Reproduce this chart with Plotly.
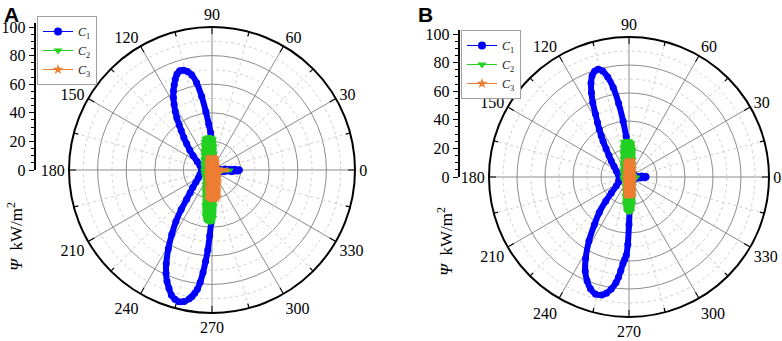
import plotly.graph_objects as go

# ---------------- data ----------------
angle_ticks = [0, 30, 60, 90, 120, 150, 180, 210, 240, 270, 300, 330]
radial_ticks = [0, 20, 40, 60, 80, 100]
series_names = ["<i>C</i><sub>1</sub>", "<i>C</i><sub>2</sub>", "<i>C</i><sub>3</sub>"]

# Panel A
a_c1_theta = [0, 2, 4, 7, 15, 30, 45, 60, 75, 82, 86, 88, 90, 92, 94, 96, 98, 100, 102, 104, 106, 108,
              110, 112, 114, 116, 118, 120, 122, 124, 126, 128, 131, 134, 138, 143, 150, 160, 170, 180,
              190, 200, 210, 217, 222, 226, 229, 232, 235, 238, 241, 244, 246, 248, 250, 252, 254, 256,
              258, 260, 261, 262, 263, 264, 265, 266, 267, 268, 269, 270, 272, 275, 280, 290, 305, 320,
              335, 348, 353, 356, 358, 360]
a_c1_r = [19, 16, 9, 5, 4, 3.5, 3.5, 4, 5, 7, 11, 15, 20, 26, 32, 41, 52, 62, 68, 71, 72.5, 73,
          71.5, 68.5, 65, 61.5, 57.5, 53, 48.5, 44, 39, 35, 30, 25.5, 21, 16.5, 12, 9, 7.5, 7,
          7.5, 9, 11, 14, 18, 22, 27, 35, 44, 53, 63, 73, 79, 84, 88, 92, 94, 95,
          94, 91.5, 89.5, 87, 84, 79, 72, 64, 56, 46, 37, 29, 19, 12, 7, 5, 4, 4,
          4, 5, 8, 14, 18, 19]

a_c2_theta = [0, 4, 10, 25, 45, 60, 70, 76, 80, 83, 86, 90, 95, 100, 104, 107, 110, 115, 120, 130, 150,
              180, 200, 215, 230, 240, 248, 253, 257, 260, 263, 267, 271, 273, 275, 278, 282, 290, 305,
              320, 335, 345, 352, 357, 360]
a_c2_r = [13, 8, 4.5, 3, 3, 4, 6, 8.5, 12, 17, 22, 23, 23.5, 23.5, 23, 21, 18, 15, 12.5, 10, 7.5,
          6.5, 6.5, 7, 8, 11, 15, 19, 25, 32, 36, 37, 36.5, 33, 25, 16, 11, 7, 5,
          4, 3.5, 4.5, 7, 11, 13]

a_c3_theta = [0, 3, 8, 20, 35, 50, 60, 70, 80, 90, 100, 110, 120, 135, 150, 180, 210, 225, 240, 250,
              255, 260, 265, 270, 275, 280, 285, 290, 300, 315, 330, 345, 355, 360]
a_c3_r = [10.5, 7, 5, 4, 4.5, 6, 7, 9.5, 9.3, 9, 9.2, 9.5, 7, 5, 4, 3.5, 4, 5, 7, 10,
          13.5, 20, 21, 21, 21, 21, 19, 14, 10, 7, 5.7, 5, 6.5, 10.5]

# Panel B
b_c1_theta = [0, 2, 4, 7, 20, 45, 70, 80, 85, 88, 90, 92, 94, 96, 98, 100, 102, 104, 106, 108, 110,
              112, 114, 116, 118, 120, 122, 124, 126, 129, 133, 138, 145, 155, 165, 180, 195, 205,
              215, 222, 226, 230, 234, 238, 242, 245, 248, 251, 254, 257, 259, 261, 263, 264, 265,
              266, 267, 268, 269, 270, 271, 273, 276, 282, 300, 330, 350, 355, 357, 360]
b_c1_r = [12, 12, 9, 5, 4, 4, 4.5, 6, 8, 13, 17, 21, 29, 40, 53, 65, 73, 78, 80, 79.5, 77,
          72.5, 66, 59, 51, 45, 40, 35.5, 31.5, 26, 21, 17, 13, 10, 8, 7, 7.5, 8,
          11, 17, 24, 33, 42, 54, 66, 74, 80, 84.5, 87, 86.5, 84.5, 81, 76, 72, 67,
          62, 59, 56, 48, 34, 24, 16, 10, 6, 4, 4, 5, 8, 11, 12]

b_c2_theta = [0, 15, 30, 45, 60, 70, 75, 80, 84, 88, 92, 96, 100, 103, 106, 110, 115, 120, 135, 150,
              180, 200, 225, 240, 250, 255, 260, 264, 268, 272, 276, 280, 285, 290, 300, 315, 330,
              345, 360]
b_c2_r = [6, 4, 4, 5, 7, 10, 13.5, 20, 25, 26, 26, 26, 26, 22, 18, 14.3, 11.5, 9.8, 7, 5.7,
          5, 5, 5, 7, 10, 13.5, 19, 24, 25.5, 25.5, 24, 19, 13.5, 10, 7, 5, 4.5,
          4.5, 6]

b_c3_theta = [0, 20, 45, 60, 70, 75, 80, 90, 100, 105, 110, 120, 135, 160, 180, 200, 225, 240, 250,
              255, 260, 270, 280, 285, 290, 300, 315, 340, 360]
b_c3_r = [3.5, 3.7, 5, 7, 10.2, 12.3, 12.1, 12, 12.1, 10.8, 8.2, 5.6, 4, 3, 2.8, 3, 4, 5.6, 8.2,
          10.8, 14, 13.8, 14, 13.5, 10.2, 7, 5, 3.8, 3.5]

# ---------------- styling / layout ----------------
W, H = 782, 341
SERIF = "Liberation Serif"
colors = ["#0000FF", "#22D022", "#ED7D31"]
symbols = ["circle", "triangle-down", "star"]
GRID = "#8c8c8c"
MINOR_GRID = "#cfcfcf"

panels = [
    dict(letter="A", polar="polar", legend="legend", xa="x", ya="y",
         cx=212, cy=170, R=143, axR=143, axis_x=34.5, letter_x=2, title_x=15, title_y=237,
         leg_x=37, leg_y=16,
         data=[(a_c1_theta, a_c1_r), (a_c2_theta, a_c2_r), (a_c3_theta, a_c3_r)]),
    dict(letter="B", polar="polar2", legend="legend2", xa="x2", ya="y2",
         cx=629, cy=177, R=140, axR=143, axis_x=458.5, letter_x=416, title_x=445, title_y=242,
         leg_x=461, leg_y=30,
         data=[(b_c1_theta, b_c1_r), (b_c2_theta, b_c2_r), (b_c3_theta, b_c3_r)]),
]

fig = go.Figure()
layout = dict(width=W, height=H, margin=dict(l=0, r=0, t=0, b=0, pad=0, autoexpand=False),
              paper_bgcolor="white", plot_bgcolor="white", showlegend=True,
              annotations=[])

for p in panels:
    sp = p["polar"]
    th, rr = [], []
    for rv in [10, 30, 50, 70, 90]:
        th += list(range(0, 361, 2)) + [None]
        rr += [rv] * 181 + [None]
    fig.add_trace(go.Scatterpolar(theta=th, r=rr, subplot=sp, mode="lines",
                                  line=dict(color=MINOR_GRID, width=1, dash="dot"),
                                  hoverinfo="skip", showlegend=False))
    th, rr, tth, trr = [], [], [], []
    for a in range(15, 360, 30):
        th += [a, a, None]
        rr += [0, 100, None]
        tth += [a, a, None]
        trr += [96.8, 100, None]
    fig.add_trace(go.Scatterpolar(theta=th, r=rr, subplot=sp, mode="lines",
                                  line=dict(color=MINOR_GRID, width=1, dash="dot"),
                                  hoverinfo="skip", showlegend=False))
    fig.add_trace(go.Scatterpolar(theta=tth, r=trr, subplot=sp, mode="lines",
                                  line=dict(color="black", width=1.2),
                                  hoverinfo="skip", showlegend=False))
    for i, (th_d, r_d) in enumerate(p["data"]):
        if i == 0:
            fig.add_trace(go.Scatterpolar(
                theta=th_d, r=r_d, subplot=sp, mode="lines+markers",
                line=dict(color=colors[i], width=6, shape="spline", smoothing=0.6),
                marker=dict(color=colors[i], size=7, symbol=symbols[i]),
                hoverinfo="skip", showlegend=False))
        else:
            fig.add_trace(go.Scatterpolar(
                theta=th_d, r=r_d, subplot=sp, mode="lines+markers",
                fill="toself", fillcolor=colors[i],
                line=dict(color=colors[i], width=3, shape="spline", smoothing=0.6),
                marker=dict(color=colors[i], size=5, symbol=symbols[i]),
                hoverinfo="skip", showlegend=False))
    for i in range(3):
        fig.add_trace(go.Scatterpolar(
            theta=[None], r=[None], subplot=sp, mode="lines+markers",
            name=series_names[i], legend=p["legend"],
            line=dict(color=colors[i], width=1),
            marker=dict(color=colors[i], size=8, symbol=symbols[i])))
    fig.add_trace(go.Scatter(x=[0], y=[0], xaxis=p["xa"], yaxis=p["ya"], mode="markers",
                             marker=dict(opacity=0), hoverinfo="skip", showlegend=False))

    cx, cy, R = p["cx"], p["cy"], p["R"]
    layout[sp] = dict(
        domain=dict(x=[(cx - R) / W, (cx + R) / W], y=[1 - (cy + R) / H, 1 - (cy - R) / H]),
        bgcolor="white",
        radialaxis=dict(range=[0, 100], tickvals=radial_ticks[1:5], showticklabels=False,
                        ticks="", showline=False, gridcolor=GRID, gridwidth=1),
        angularaxis=dict(tickvals=angle_ticks, ticktext=[str(a) for a in angle_ticks],
                         direction="counterclockwise", rotation=0,
                         ticks="inside", ticklen=6, tickwidth=1.2, tickcolor="black",
                         showline=True, linecolor="black", linewidth=2,
                         gridcolor=GRID, gridwidth=1,
                         tickfont=dict(family=SERIF, size=16, color="black")))
    axis_top = 103
    axR = p["axR"]
    xk = "xaxis" if p["xa"] == "x" else "xaxis2"
    yk = "yaxis" if p["ya"] == "y" else "yaxis2"
    layout[xk] = dict(domain=[p["axis_x"] / W, (p["axis_x"] + 5) / W], range=[0, 1],
                      visible=False, anchor=p["ya"], automargin=False)
    layout[yk] = dict(domain=[1 - cy / H, 1 - (cy - axR * axis_top / 100) / H],
                      range=[0, axis_top], anchor="free", position=p["axis_x"] / W, side="left",
                      automargin=False,
                      tickvals=radial_ticks, showline=True, linecolor="black", linewidth=1.5,
                      ticks="outside", ticklen=5, tickwidth=1.2, tickcolor="black",
                      minor=dict(dtick=5, ticklen=3, ticks="outside", tickcolor="black"),
                      showgrid=False, zeroline=False,
                      tickfont=dict(family=SERIF, size=16, color="black"))
    layout[p["legend"]] = dict(x=p["leg_x"] / W, y=1 - p["leg_y"] / H, xanchor="left",
                               yanchor="top", bgcolor="white", bordercolor="#a0a0a0",
                               borderwidth=1, itemwidth=30, tracegroupgap=0,
                               font=dict(family=SERIF, size=12, color="#222"))
    layout["annotations"].append(dict(
        text="<b>" + p["letter"] + "</b>", x=p["letter_x"] / W, y=1 - 1 / H,
        xref="paper", yref="paper", xanchor="left", yanchor="top", showarrow=False,
        font=dict(family="Liberation Sans", size=21, color="black")))
    layout["annotations"].append(dict(
        text="<i>Ψ</i>  kW/m<sup>2</sup>", x=p["title_x"] / W, y=1 - p["title_y"] / H,
        xref="paper", yref="paper", xanchor="center", yanchor="middle", showarrow=False,
        textangle=-90, font=dict(family=SERIF, size=17, color="black")))

fig.update_layout(**layout)
fig.write_html("out.html", config={"displayModeBar": False},
               post_script="document.body.style.margin='0px';")
